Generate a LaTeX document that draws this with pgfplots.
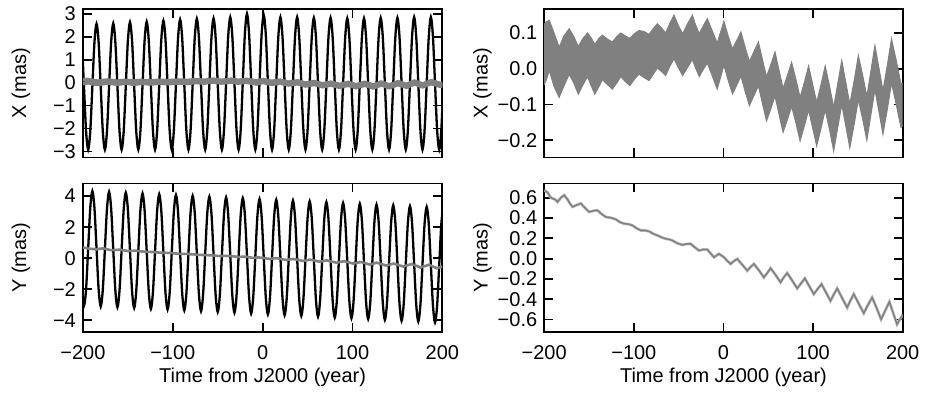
\documentclass[border=0pt]{standalone}
\usepackage{fontspec}
\setmainfont{Liberation Sans}
\usepackage{pgfplots}
\usepackage{pgfplotstable}
\pgfplotsset{compat=1.18}
\usepgfplotslibrary{fillbetween}

\pgfplotstableread{
t X Y
-203.4 2.50 0.66
-201.08 1.71 -1.96
-198.75 -0.21 -3.05
-196.43 -2.13 -1.98
-194.1 -2.92 0.63
-191.78 -2.12 3.24
-189.45 -0.18 4.32
-187.13 1.76 3.23
-184.8 2.56 0.61
-182.48 1.76 -2.01
-180.15 -0.18 -3.11
-177.83 -2.12 -2.03
-175.5 -2.92 0.58
-173.18 -2.11 3.19
-170.85 -0.17 4.27
-168.53 1.77 3.18
-166.2 2.58 0.56
-163.88 1.77 -2.07
-161.55 -0.17 -3.16
-159.23 -2.11 -2.08
-156.9 -2.92 0.53
-154.58 -2.11 3.14
-152.25 -0.15 4.22
-149.93 1.82 3.13
-147.6 2.63 0.51
-145.28 1.82 -2.12
-142.95 -0.15 -3.21
-140.63 -2.11 -2.13
-138.3 -2.92 0.48
-135.98 -2.10 3.09
-133.65 -0.14 4.17
-131.33 1.83 3.08
-129.0 2.65 0.46
-126.68 1.83 -2.17
-124.35 -0.14 -3.26
-122.03 -2.10 -2.18
-119.7 -2.92 0.43
-117.38 -2.10 3.04
-115.05 -0.11 4.12
-112.73 1.88 3.03
-110.4 2.70 0.40
-108.08 1.88 -2.22
-105.75 -0.11 -3.31
-103.43 -2.10 -2.23
-101.1 -2.92 0.38
-98.78 -2.09 2.99
-96.45 -0.09 4.07
-94.13 1.92 2.98
-91.8 2.75 0.35
-89.48 1.92 -2.27
-87.15 -0.09 -3.36
-84.83 -2.09 -2.28
-82.5 -2.92 0.33
-80.18 -2.09 2.94
-77.85 -0.07 4.01
-75.53 1.95 2.92
-73.2 2.78 0.30
-70.88 1.95 -2.32
-68.55 -0.07 -3.41
-66.23 -2.09 -2.33
-63.9 -2.92 0.28
-61.58 -2.08 2.89
-59.25 -0.06 3.96
-56.93 1.96 2.87
-54.6 2.80 0.25
-52.28 1.96 -2.37
-49.95 -0.06 -3.46
-47.63 -2.08 -2.39
-45.3 -2.92 0.22
-42.98 -2.07 2.83
-40.65 -0.04 3.91
-38.33 2.00 2.82
-36.0 2.85 0.20
-33.68 2.00 -2.42
-31.35 -0.04 -3.51
-29.03 -2.07 -2.44
-26.7 -2.92 0.17
-24.38 -2.05 2.78
-22.05 0.04 3.86
-19.73 2.13 2.77
-17.4 3.00 0.15
-15.08 2.13 -2.47
-12.75 0.04 -3.57
-10.43 -2.05 -2.49
-8.1 -2.92 0.12
-5.78 -2.06 2.73
-3.45 0.02 3.81
-1.13 2.09 2.72
1.2 2.95 0.10
3.53 2.09 -2.53
5.85 0.02 -3.62
8.18 -2.06 -2.54
10.5 -2.92 0.07
12.83 -2.07 2.68
15.15 -0.04 3.76
17.48 2.00 2.67
19.8 2.85 0.05
22.13 2.00 -2.58
24.45 -0.04 -3.67
26.78 -2.07 -2.59
29.1 -2.92 0.02
31.43 -2.07 2.63
33.75 -0.04 3.71
36.08 2.00 2.62
38.4 2.85 -0.01
40.73 2.00 -2.63
43.05 -0.04 -3.72
45.38 -2.07 -2.64
47.7 -2.92 -0.03
50.03 -2.08 2.58
52.35 -0.05 3.66
54.68 1.98 2.57
57.0 2.82 -0.06
59.33 1.98 -2.68
61.65 -0.05 -3.77
63.98 -2.08 -2.69
66.3 -2.92 -0.08
68.63 -2.08 2.53
70.95 -0.05 3.61
73.28 1.98 2.51
75.6 2.82 -0.11
77.93 1.98 -2.73
80.25 -0.05 -3.82
82.58 -2.08 -2.74
84.9 -2.92 -0.13
87.23 -2.08 2.48
89.55 -0.06 3.55
91.88 1.96 2.46
94.2 2.80 -0.16
96.53 1.96 -2.78
98.85 -0.06 -3.87
101.18 -2.08 -2.79
103.5 -2.92 -0.19
105.83 -2.08 2.43
108.15 -0.06 3.50
110.48 1.96 2.41
112.8 2.80 -0.21
115.13 1.96 -2.83
117.45 -0.06 -3.92
119.78 -2.08 -2.85
122.1 -2.92 -0.24
124.43 -2.08 2.37
126.75 -0.05 3.45
129.08 1.98 2.36
131.4 2.82 -0.26
133.73 1.98 -2.88
136.05 -0.05 -3.97
138.38 -2.08 -2.90
140.7 -2.92 -0.29
143.03 -2.08 2.32
145.35 -0.05 3.40
147.68 1.98 2.31
150.0 2.82 -0.31
152.33 1.98 -2.94
154.65 -0.05 -4.03
156.98 -2.08 -2.95
159.3 -2.92 -0.34
161.63 -2.07 2.27
163.95 -0.04 3.35
166.28 2.00 2.26
168.6 2.85 -0.36
170.93 2.00 -2.99
173.25 -0.04 -4.08
175.58 -2.07 -3.00
177.9 -2.92 -0.39
180.23 -2.07 2.22
182.55 -0.04 3.30
184.88 2.00 2.21
187.2 2.85 -0.42
189.53 2.00 -3.04
191.85 -0.04 -4.13
194.18 -2.07 -3.05
196.5 -2.92 -0.44
198.83 -2.07 2.17
201.15 -0.04 3.25
203.48 2.00 2.15
205.8 2.85 -0.47
}\nut

\pgfplotstableread{
t u l
-200 0.125 -0.045
-197.5 0.131 -0.030
-194.4 0.136 -0.005
-189.0 0.100 -0.050
-183.3 0.060 -0.080
-178.0 0.092 -0.048
-172.1 0.112 -0.015
-167.0 0.090 -0.040
-162.0 0.062 -0.071
-157.0 0.084 -0.046
-151.7 0.100 -0.022
-147.5 0.086 -0.048
-143.5 0.068 -0.071
-139.0 0.085 -0.050
-135.0 0.094 -0.030
-129.5 0.083 -0.044
-124.0 0.075 -0.057
-119.0 0.090 -0.040
-114.6 0.100 -0.022
-109.5 0.092 -0.036
-104.5 0.085 -0.047
-99.5 0.098 -0.030
-94.2 0.107 -0.015
-88.5 0.104 -0.025
-83.0 0.096 -0.033
-78.5 0.112 -0.016
-73.7 0.126 0.002
-69.0 0.114 -0.008
-64.5 0.100 -0.019
-60.0 0.126 0.006
-55.2 0.150 0.028
-50.5 0.122 0.004
-45.5 0.098 -0.019
-40.0 0.126 0.004
-34.7 0.150 0.026
-31.0 0.122 0.002
-27.0 0.098 -0.022
-22.5 0.120 -0.002
-18.0 0.140 0.016
-12.5 0.106 -0.020
-7.0 0.072 -0.057
-3.0 0.104 -0.022
0.5 0.133 0.010
5.0 0.094 -0.030
10.0 0.055 -0.070
15.0 0.080 -0.045
19.5 0.103 -0.020
24.0 0.062 -0.062
29.0 0.020 -0.103
34.0 0.048 -0.075
39.0 0.075 -0.048
43.5 0.026 -0.097
48.0 -0.022 -0.146
53.0 0.012 -0.111
57.5 0.047 -0.076
62.0 -0.004 -0.127
66.5 -0.055 -0.178
71.5 -0.018 -0.141
76.0 0.018 -0.105
81.0 -0.031 -0.153
85.5 -0.080 -0.202
90.5 -0.036 -0.158
95.0 0.008 -0.115
99.5 -0.043 -0.165
104.0 -0.094 -0.216
109.0 -0.043 -0.165
113.5 0.008 -0.115
118.5 -0.050 -0.172
123.0 -0.108 -0.230
127.5 -0.042 -0.165
132.0 0.023 -0.100
136.5 -0.038 -0.160
141.0 -0.099 -0.221
146.0 -0.031 -0.153
150.5 0.037 -0.086
155.5 -0.020 -0.143
160.0 -0.078 -0.200
164.5 -0.006 -0.129
169.0 0.065 -0.058
173.5 0.002 -0.120
178.0 -0.061 -0.183
183.0 0.012 -0.111
187.5 0.084 -0.040
193.0 0.021 -0.102
198.0 -0.042 -0.164
200.0 -0.040 -0.160
}\resX

\pgfplotstableread{
t y
-200.0 0.676
-196.0 0.650
-193.5 0.610
-190.7 0.593
-188.0 0.585
-185.1 0.560
-181.5 0.600
-177.7 0.626
-174.0 0.585
-171.0 0.540
-168.4 0.511
-164.0 0.528
-159.1 0.544
-154.5 0.500
-149.8 0.461
-145.0 0.472
-140.6 0.477
-136.0 0.440
-131.3 0.411
-126.0 0.404
-120.2 0.388
-115.5 0.360
-110.9 0.345
-106.0 0.340
-101.6 0.328
-97.0 0.300
-92.3 0.279
-87.5 0.278
-83.0 0.269
-78.5 0.246
-73.7 0.229
-69.0 0.210
-64.4 0.196
-60.5 0.190
-57.0 0.179
-51.5 0.152
-45.9 0.136
-41.0 0.145
-36.6 0.146
-32.0 0.112
-27.3 0.080
-22.5 0.090
-18.0 0.090
-14.0 0.048
-10.6 0.014
-5.0 0.047
0.6 0.014
4.0 -0.020
8.0 -0.052
11.5 -0.025
15.4 -0.003
21.0 -0.060
26.6 -0.119
30.0 -0.085
34.0 -0.052
40.0 -0.120
45.1 -0.185
49.0 -0.140
52.6 -0.095
58.5 -0.165
63.7 -0.234
67.0 -0.188
71.1 -0.142
77.0 -0.220
82.3 -0.294
86.5 -0.245
90.8 -0.195
96.0 -0.275
100.8 -0.350
105.0 -0.300
109.4 -0.251
114.5 -0.335
119.4 -0.417
123.0 -0.355
126.9 -0.294
132.5 -0.390
138.0 -0.483
141.5 -0.416
145.4 -0.350
151.0 -0.445
156.6 -0.539
161.0 -0.460
165.9 -0.383
171.0 -0.490
175.9 -0.599
180.5 -0.512
185.2 -0.426
189.5 -0.540
193.7 -0.648
196.5 -0.605
199.3 -0.566
200.0 -0.550
}\resY

\pgfplotsset{
  panel/.style={
    scale only axis, height=74.5pt, xmin=-200, xmax=200,
    axis line style={line width=0.9pt},
    every tick/.style={line width=0.9pt, black},
    tick align=inside, major tick length=4.5pt,
    xtick pos=both, ytick pos=both,
    xtick={-200,-100,0,100,200},
    xticklabel style={yshift=-3pt},
    ylabel style={at={(axis description cs:-0.172,0.5)}, anchor=center},
    xlabel style={at={(axis description cs:0.5,-0.30)}, anchor=center},
    anchor=south west,
  },
  leftpanel/.style={panel, width=180pt},
  rightpanel/.style={panel, width=179.5pt},
}

\begin{document}
\begin{tikzpicture}
\path (0,0) rectangle (463pt,198.5pt);

% top left
\begin{axis}[leftpanel, at={(41.5pt,122pt)},
  ymin=-3.26, ymax=3.22, ytick={-3,-2,-1,0,1,2,3},
  yticklabels={−3,−2,−1,0,1,2,3}, xticklabels={},
  ylabel={X (mas)}]
\addplot[black, line width=1.15pt, smooth] table[x=t,y=X]{\nut};
\addplot[name path=U, gray, line width=1.8pt] table[x=t,y=u]{\resX};
\addplot[name path=L, gray, line width=1.8pt] table[x=t,y=l]{\resX};
\addplot[gray] fill between[of=U and L];
\end{axis}

% bottom left
\begin{axis}[leftpanel, at={(41.5pt,34.5pt)},
  ymin=-4.77, ymax=4.81, ytick={-4,-2,0,2,4},
  yticklabels={−4,−2,0,2,4},
  xticklabels={−200,−100,0,100,200},
  ylabel={Y (mas)}, xlabel={Time from J2000 (year)}]
\addplot[black, line width=1.15pt, smooth] table[x=t,y=Y]{\nut};
\addplot[gray, line width=1.3pt] table[x=t,y=y]{\resY};
\end{axis}

% top right
\begin{axis}[rightpanel, at={(272.5pt,122pt)},
  ymin=-0.248, ymax=0.168, ytick={-0.2,-0.1,0,0.1},
  yticklabels={−0.2,−0.1,0.0,0.1}, xticklabels={},
  ylabel={X (mas)}]
\addplot[name path=U, gray, line width=0.5pt] table[x=t,y=u]{\resX};
\addplot[name path=L, gray, line width=0.5pt] table[x=t,y=l]{\resX};
\addplot[gray] fill between[of=U and L];
\end{axis}

% bottom right
\begin{axis}[rightpanel, at={(272.5pt,34.5pt)},
  ymin=-0.726, ymax=0.742, ytick={-0.6,-0.4,-0.2,0,0.2,0.4,0.6},
  yticklabels={−0.6,−0.4,−0.2,0.0,0.2,0.4,0.6},
  xticklabels={−200,−100,0,100,200},
  ylabel={Y (mas)}, xlabel={Time from J2000 (year)}]
\addplot[gray!55, line width=1.4pt] table[x=t,y=y]{\resY};
\addplot[gray, line width=0.7pt] table[x=t,y=y]{\resY};
\end{axis}
\end{tikzpicture}
\end{document}
